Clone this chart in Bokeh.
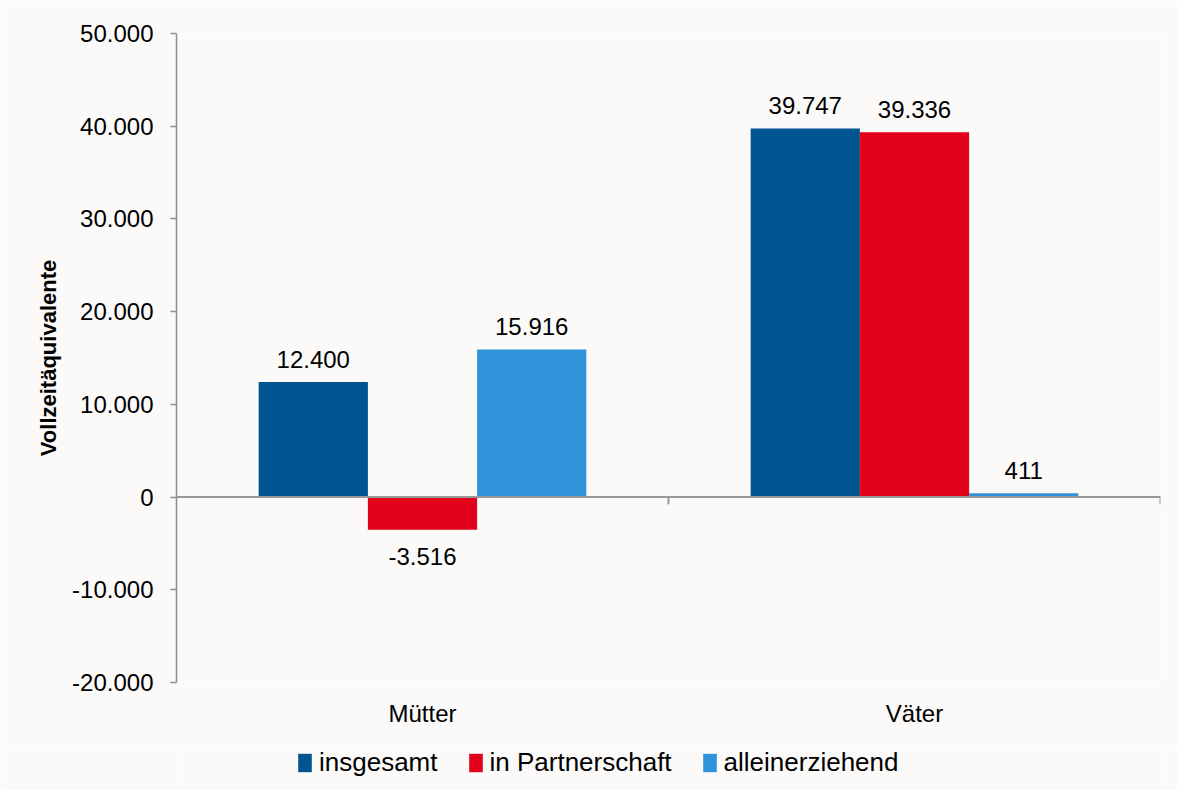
from bokeh.plotting import figure
from bokeh.layouts import column
from bokeh.models import (ColumnDataSource, FactorRange, Range1d, FixedTicker, Legend,
                          LegendItem, LabelSet, Span)
from bokeh.core.properties import value
from bokeh.transform import dodge
from bokeh.embed import file_html
from bokeh.resources import INLINE

categories = ["Mütter", "Väter"]
insgesamt = [12400, 39747]
partnerschaft = [-3516, 39336]
alleinerziehend = [15916, 411]
series_names = ["insgesamt", "in Partnerschaft", "alleinerziehend"]
y_ticks = [-20000, -10000, 0, 10000, 20000, 30000, 40000, 50000]
y_tick_labels = ["-20.000", "-10.000", "0", "10.000", "20.000", "30.000", "40.000", "50.000"]

colors = ["#005591", "#E3001B", "#3092D8"]
FONT = "Liberation Sans"
BG = "#FBFAF9"
AXC = "#8F8F8F"

def de(v):
    return f"{v:,}".replace(",", ".")

W = 1177
H_MAIN, H_LEG = 745, 45

p = figure(width=W, height=H_MAIN, output_backend="svg", toolbar_location=None,
           x_range=FactorRange(factors=categories, range_padding=0),
           y_range=Range1d(y_ticks[0], y_ticks[-1]),
           min_border_left=176, min_border_right=17, min_border_top=33, min_border_bottom=63)
p.background_fill_color = BG
p.border_fill_color = BG
p.outline_line_color = None
p.xgrid.grid_line_color = None
p.ygrid.grid_line_color = None

src = ColumnDataSource(dict(cat=categories, a=insgesamt, b=partnerschaft, c=alleinerziehend))
bw = 0.222
cols = ["a", "b", "c"]
offs = [-bw, 0.0, bw]
for col, off, colr in zip(cols, offs, colors):
    p.vbar(x=dodge("cat", off, range=p.x_range), top=col, width=bw, source=src,
           fill_color=colr, line_color=None)

# zero line and category boundary ticks
p.add_layout(Span(location=0, dimension="width", line_color="#999999", line_width=2))
p.segment(x0=[1.0, 2.0], y0=[0, 0], x1=[1.0, 2.0], y1=[-780, -780],
          line_color="#999999", line_width=2)

# data labels
lab_x, lab_y, lab_t, lab_off = [], [], [], []
for i, c in enumerate(categories):
    for vals, off in zip([insgesamt, partnerschaft, alleinerziehend], offs):
        v = vals[i]
        lab_x.append(i + 0.5 + off)
        lab_y.append(v)
        lab_t.append(de(v))
        lab_off.append(23 if v >= 0 else -27)
lsrc = ColumnDataSource(dict(x=lab_x, y=lab_y, t=lab_t, yo=lab_off))
p.add_layout(LabelSet(x="x", y="y", text="t", y_offset="yo", source=lsrc,
                      text_align="center", text_baseline="middle",
                      text_font=value(FONT), text_font_size=value("24px"),
                      text_color="#000000"))

# y axis
ya = p.yaxis[0]
ya.ticker = FixedTicker(ticks=y_ticks)
ya.major_label_overrides = {t: l for t, l in zip(y_ticks, y_tick_labels)}
ya.minor_tick_line_color = None
ya.major_tick_out = 6
ya.major_tick_in = 0
ya.axis_line_color = AXC
ya.axis_line_width = 1.5
ya.major_tick_line_color = AXC
ya.major_tick_line_width = 1.5
ya.major_label_standoff = 17
ya.major_label_text_font = FONT
ya.major_label_text_font_size = "24px"
ya.major_label_text_color = "#000000"
ya.axis_label = "Vollzeitäquivalente"
ya.axis_label_text_font = FONT
ya.axis_label_text_font_size = "22px"
ya.axis_label_text_font_style = "bold"
ya.axis_label_text_color = "#000000"
ya.axis_label_standoff = 8

# x axis (category labels only)
xa = p.xaxis[0]
xa.axis_line_color = None
xa.major_tick_line_color = None
xa.minor_tick_line_color = None
xa.major_label_standoff = 11
xa.major_label_text_font = FONT
xa.major_label_text_font_size = "24px"
xa.major_label_text_color = "#000000"

# legend strip (its frame is aligned with the main frame by the column layout)
lf = figure(width=W, height=H_LEG, output_backend="svg", toolbar_location=None,
            x_axis_type=None, y_axis_type=None, x_range=Range1d(0, 1), y_range=Range1d(0, 1),
            min_border=0)
lf.background_fill_color = BG
lf.border_fill_color = BG
lf.outline_line_color = None
lf.xgrid.grid_line_color = None
lf.ygrid.grid_line_color = None
leg_src = ColumnDataSource(dict(x=[-5.0], top=[0.0]))
items = []
for n, colr in zip(series_names, colors):
    r = lf.vbar(x="x", top="top", width=0.0, source=leg_src, fill_color=colr, line_color=None)
    items.append(LegendItem(label=n, renderers=[r]))
legend = Legend(items=items, orientation="horizontal", location=(120, 12),
                glyph_width=17, glyph_height=23, label_standoff=6, spacing=29,
                padding=0, margin=0, border_line_color=None, background_fill_alpha=0,
                label_text_font=FONT, label_text_font_size="26px", label_text_color="#000000",
                label_height=26)
lf.add_layout(legend)

layout = column(p, lf, spacing=0)
open("out.html", "w").write(file_html(layout, INLINE))
